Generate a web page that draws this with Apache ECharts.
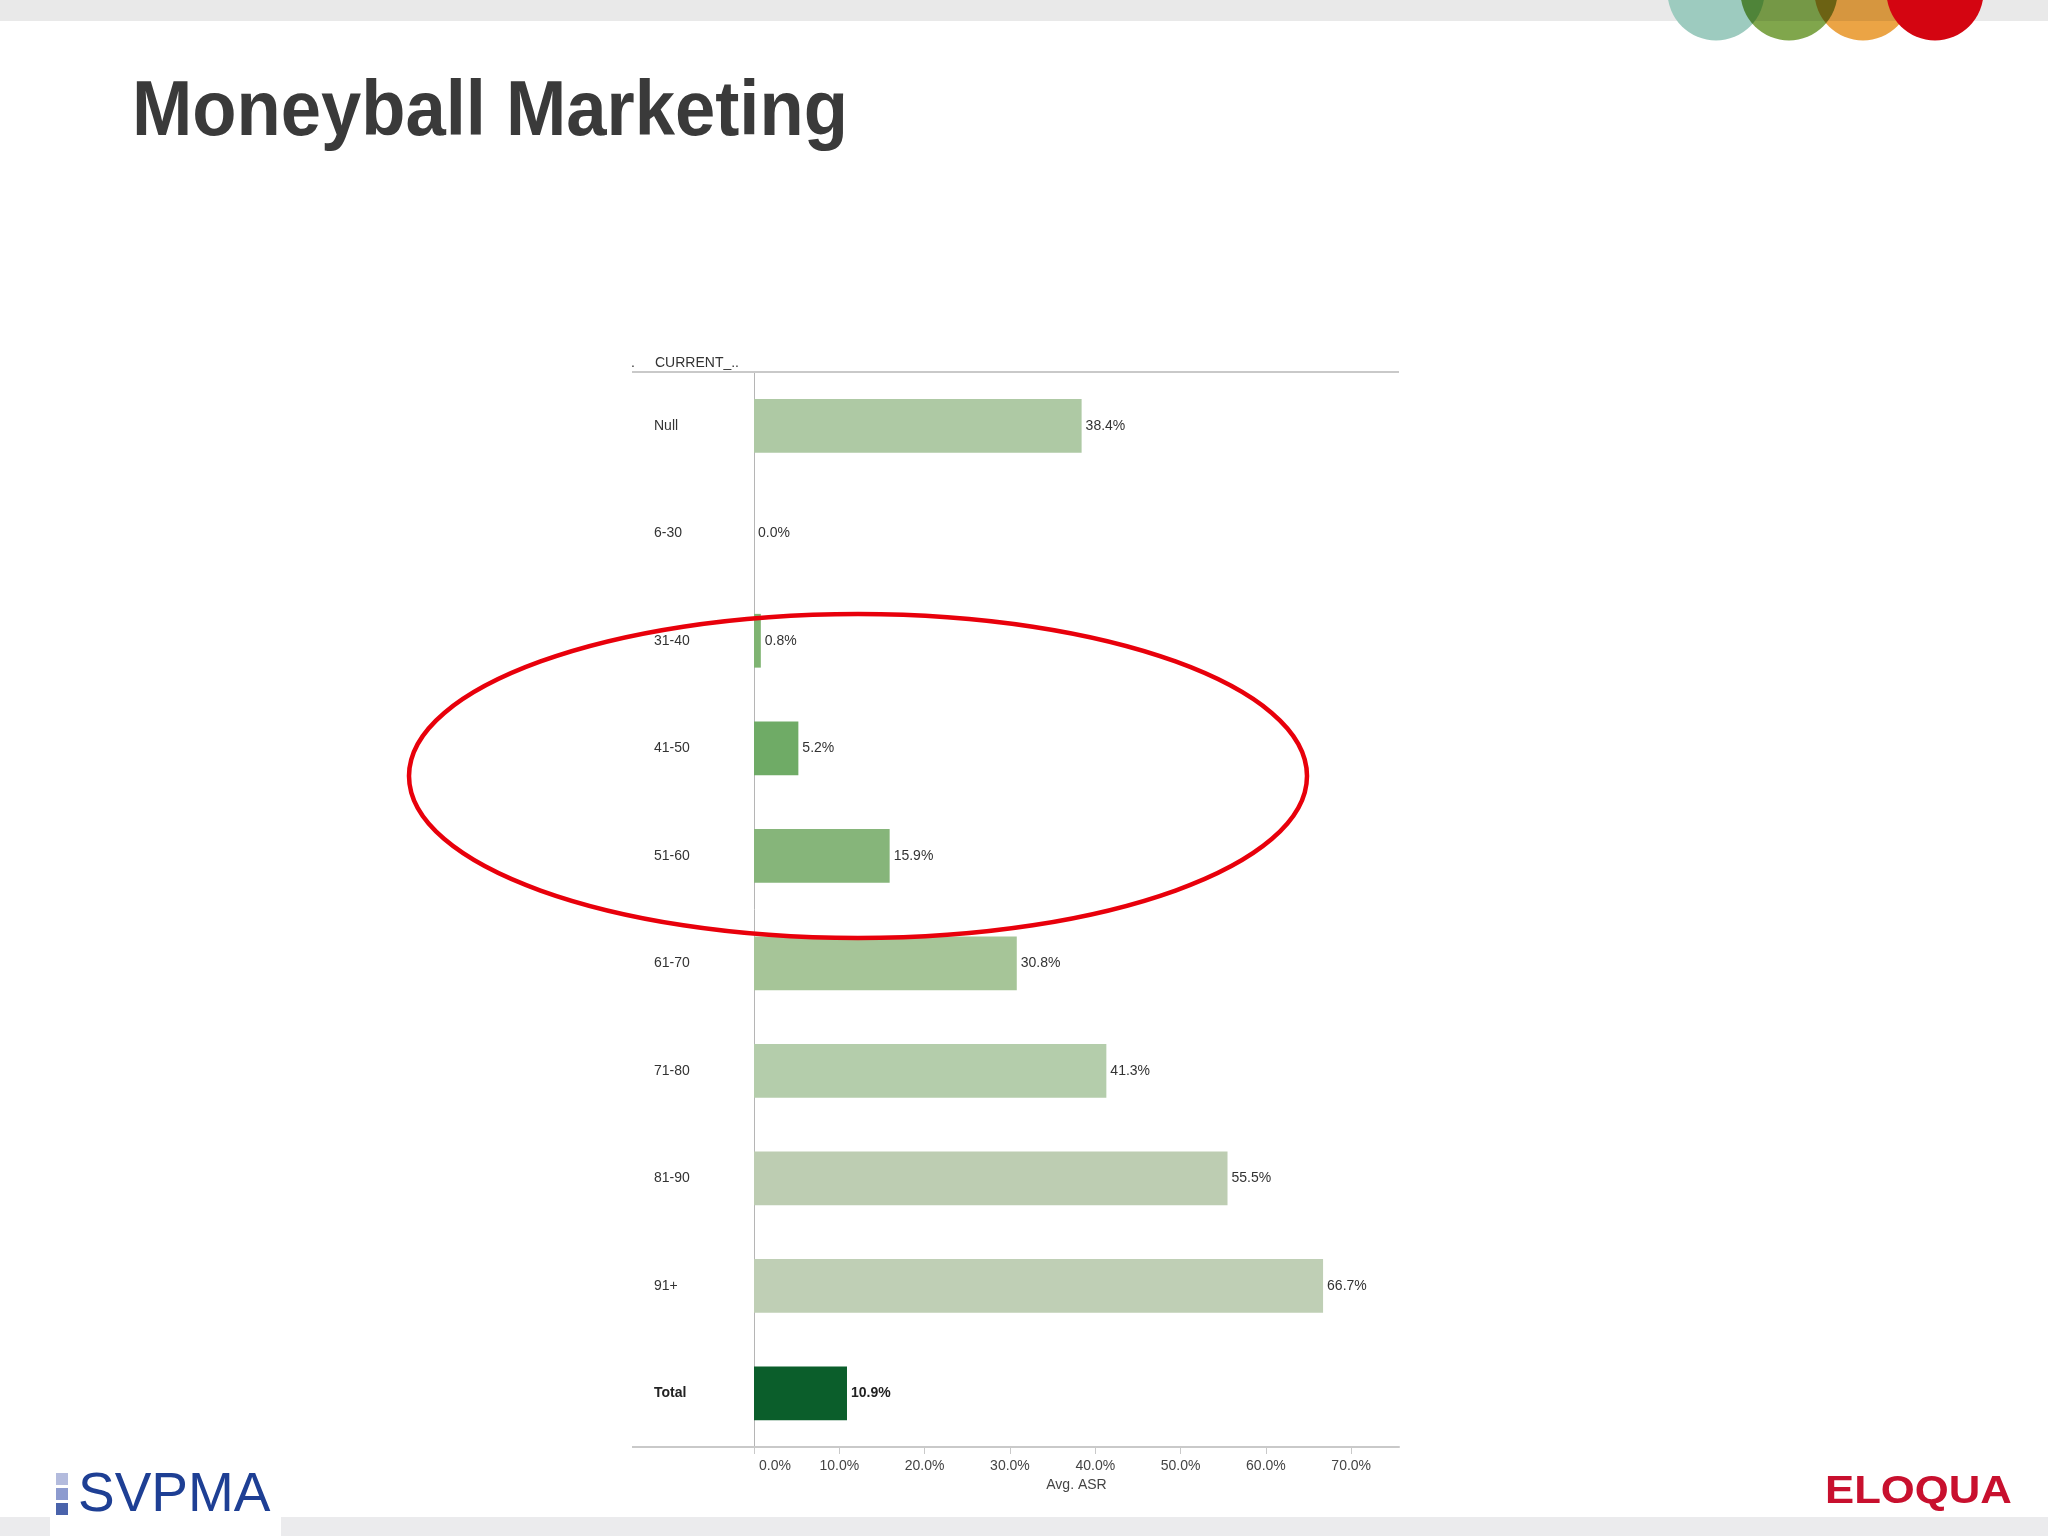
<!DOCTYPE html>
<html>
<head>
<meta charset="utf-8">
<script src="https://cdn.jsdelivr.net/npm/echarts@6/dist/echarts.min.js"></script>
<style>
html,body{margin:0;padding:0;background:#fff;}
#chart{width:2048px;height:1536px;}
</style>
</head>
<body>
<div id="chart"></div>
<script>
// ---- data ----
const categories = ['Null', '6-30', '31-40', '41-50', '51-60', '61-70', '71-80', '81-90', '91+', 'Total'];
const asrValues = [38.4, 0.0, 0.8, 5.2, 15.9, 30.8, 41.3, 55.5, 66.7, 10.9];
const xTicks = [0, 10, 20, 30, 40, 50, 60, 70];

// ---- styles ----
const barColors = ['#aec9a4', '#9fc493', '#7fb472', '#6fab66', '#86b57a', '#a6c598', '#b4cdab', '#bdcdb2', '#bfcfb5', '#0b5e2b'];
const FONT = 'Liberation Sans, Arial, sans-serif';
const TXT = '#333333';

const chart = echarts.init(document.getElementById('chart'), null, {renderer: 'canvas'});

const option = {
  backgroundColor: '#ffffff',
  animation: false,
  grid: {left: 754, right: 649, top: 372, bottom: 89, containLabel: false},
  xAxis: {
    type: 'value',
    min: 0,
    max: 75.6,
    interval: 10,
    name: 'Avg. ASR',
    nameLocation: 'middle',
    nameGap: 31,
    nameTextStyle: {fontFamily: FONT, fontSize: 14, color: '#444'},
    axisLine: {show: true, lineStyle: {color: '#c9c9c9', width: 2}},
    axisTick: {show: true, length: 7, customValues: xTicks, lineStyle: {color: '#c9c9c9', width: 1}},
    axisLabel: {
      customValues: xTicks,
      margin: 12,
      fontFamily: FONT, fontSize: 14, color: '#444',
      formatter: function (v) {
        const s = Number(v).toFixed(1) + '%';
        return v === 0 ? '{first|' + s + '}' : s;
      },
      rich: {first: {fontFamily: FONT, fontSize: 14, color: '#444', padding: [0, 0, 0, 42]}}
    },
    splitLine: {show: false}
  },
  yAxis: {
    type: 'category',
    data: categories,
    inverse: true,
    axisLine: {show: true, lineStyle: {color: '#b5b5b5', width: 1}},
    axisTick: {show: false},
    splitLine: {show: false},
    axisLabel: {
      align: 'left',
      margin: 100,
      fontFamily: FONT, fontSize: 14, color: TXT,
      formatter: function (v) { return v === 'Total' ? '{b|' + v + '}' : v; },
      rich: {b: {fontFamily: FONT, fontSize: 14, color: '#222', fontWeight: 'bold'}}
    }
  },
  series: [{
    type: 'bar',
    barWidth: '50%',
    data: asrValues.map(function (v, i) { return {value: v, itemStyle: {color: barColors[i]}}; }),
    label: {
      show: true,
      position: 'right',
      distance: 4,
      fontFamily: FONT, fontSize: 14, color: TXT,
      formatter: function (p) {
        const s = Number(p.value).toFixed(1) + '%';
        return p.name === 'Total' ? '{b|' + s + '}' : s;
      },
      rich: {b: {fontFamily: FONT, fontSize: 14, color: '#222', fontWeight: 'bold'}}
    }
  }],
  graphic: [
    // top and bottom slide strips
    {type: 'rect', shape: {x: 0, y: 0, width: 2048, height: 21}, style: {fill: '#e9e9e9'}, z: 1},
    {type: 'rect', shape: {x: 0, y: 1517, width: 2048, height: 19}, style: {fill: '#ebebed'}, z: 1},
    {type: 'rect', shape: {x: 50, y: 1517, width: 231, height: 19}, style: {fill: '#ffffff'}, z: 2},
    // decorative circles
    {type: 'circle', shape: {cx: 1716, cy: -8, r: 48.5}, style: {fill: '#9dcbbf'}, z: 3},
    {type: 'circle', shape: {cx: 1789, cy: -8, r: 48.5}, style: {fill: '#80a64c', blend: 'multiply'}, z: 4},
    {type: 'circle', shape: {cx: 1863, cy: -8, r: 48.5}, style: {fill: '#eba445', blend: 'multiply'}, z: 5},
    {type: 'circle', shape: {cx: 1935, cy: -8, r: 48.5}, style: {fill: '#d40511'}, z: 6},
    // title
    {type: 'text', x: 132, y: 114, scaleX: 0.94, z: 10,
     style: {text: 'Moneyball Marketing', fontFamily: FONT, fontSize: 77, fontWeight: 'bold', fill: '#3a3a3a', textVerticalAlign: 'middle'}},
    // table header
    {type: 'text', x: 631, y: 363, z: 10, style: {text: '.', fontFamily: FONT, fontSize: 14, fill: TXT, textVerticalAlign: 'middle'}},
    {type: 'text', x: 655, y: 363, z: 10, style: {text: 'CURRENT_..', fontFamily: FONT, fontSize: 14, fill: TXT, textVerticalAlign: 'middle'}},
    // rules
    {type: 'line', shape: {x1: 632, y1: 372, x2: 1399, y2: 372}, style: {stroke: '#c9c9c9', lineWidth: 2}, z: 10},
    {type: 'line', shape: {x1: 632, y1: 1447, x2: 755, y2: 1447}, style: {stroke: '#c9c9c9', lineWidth: 2}, z: 10},
    // red annotation ellipse
    {type: 'ellipse', shape: {cx: 858, cy: 776, rx: 449, ry: 162}, style: {fill: null, stroke: '#e8000b', lineWidth: 4.5}, z: 100},
    // SVPMA logo
    {type: 'rect', shape: {x: 56, y: 1473, width: 12, height: 12}, style: {fill: '#b3bbdd'}, z: 10},
    {type: 'rect', shape: {x: 56, y: 1488, width: 12, height: 12}, style: {fill: '#8d9bcf'}, z: 10},
    {type: 'rect', shape: {x: 56, y: 1503, width: 12, height: 12}, style: {fill: '#4a63ab'}, z: 10},
    {type: 'text', x: 78, y: 1496, z: 10,
     style: {text: 'SVPMA', fontFamily: FONT, fontSize: 55, fill: '#1e3f94', textVerticalAlign: 'middle'}},
    // ELOQUA logo
    {type: 'text', x: 1825, y: 1492, scaleX: 1.12, z: 10,
     style: {text: 'ELOQUA', fontFamily: FONT, fontSize: 39, fontWeight: 'bold', fill: '#c8102e', textVerticalAlign: 'middle'}}
  ]
};

chart.setOption(option);
</script>
</body>
</html>
